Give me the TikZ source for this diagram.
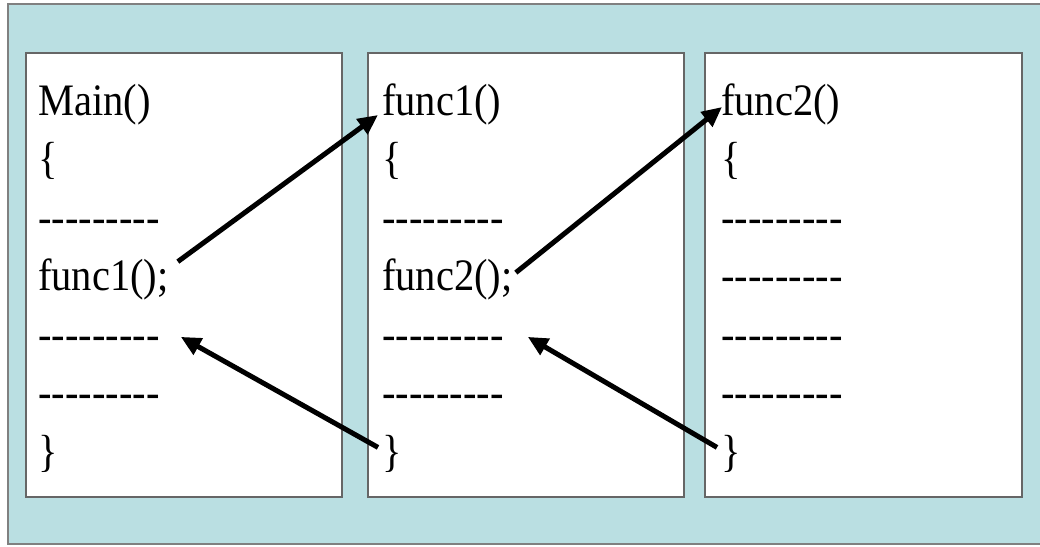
\documentclass[tikz,border=0pt]{standalone}
\usepackage{fontspec}
\setmainfont{Liberation Serif}[Ligatures=TeXOff,FakeStretch=0.9]
\usetikzlibrary{arrows.meta}

\definecolor{panelblue}{RGB}{186,223,226}
\newcommand{\dashrow}{---------}

\tikzset{
  codebox/.style={draw=black!60,line width=1.5pt,fill=white},
  codeline/.style={anchor=base west,inner xsep=4pt,inner ysep=0pt,
    font=\fontsize{45}{54}\selectfont},
  callarrow/.style={line width=5pt,-{Triangle[length=20pt,width=18pt]}},
}

\begin{document}
\begin{tikzpicture}[x=1pt,y=-1pt]
  \useasboundingbox (0,0) rectangle (1040,546);
  \clip (0,0) rectangle (1040,546);

  % background panel
  \draw[fill=panelblue,draw=black!50,line width=2pt] (8,4) rectangle (1060,544);

  % the three frames
  \draw[codebox] (26,53) rectangle (342,497);
  \draw[codebox] (368,53) rectangle (684,497);
  \draw[codebox] (705,53) rectangle (1022,497);

  % Main()
  \node[codeline] (main)   at (34,115)   {Main()};
  \node[codeline] (mopen)  at (34,173.5) {\{};
  \node[codeline] (mdashA) at (34,232)   {\dashrow};
  \node[codeline] (mcall)  at (34,290.5) {func1();};
  \node[codeline] (mdashB) at (34,349)   {\dashrow};
  \node[codeline] (mdashC) at (34,407.5) {\dashrow};
  \node[codeline] (mclose) at (34,466)   {\}};

  % func1()
  \node[codeline] (fa)       at (378,115)   {func1()};
  \node[codeline] (faopen)   at (378,173.5) {\{};
  \node[codeline] (fadashA)  at (378,232)   {\dashrow};
  \node[codeline] (facall)   at (378,290.5) {func2();};
  \node[codeline] (fadashB)  at (378,349)   {\dashrow};
  \node[codeline] (fadashC)  at (378,407.5) {\dashrow};
  \node[codeline] (faclose)  at (378,466)   {\}};

  % func2()
  \node[codeline] (fb)       at (717,115)   {func2()};
  \node[codeline] (fbopen)   at (717,173.5) {\{};
  \node[codeline] (fbdashA)  at (717,232)   {\dashrow};
  \node[codeline] (fbdashB)  at (717,290.5) {\dashrow};
  \node[codeline] (fbdashC)  at (717,349)   {\dashrow};
  \node[codeline] (fbdashD)  at (717,407.5) {\dashrow};
  \node[codeline] (fbclose)  at (717,466)   {\}};

  % calls and returns
  \draw[callarrow] ([xshift=5pt,yshift=-3pt]mcall.north east) -- (fa.base west);
  \draw[callarrow] ([xshift=-1pt,yshift=-14pt]facall.north east) -- ([xshift=5pt,yshift=8pt]fb.base west);
  \draw[callarrow] ([yshift=6pt]faclose.west) -- ([xshift=17pt,yshift=6pt]mdashB.east);
  \draw[callarrow] ([yshift=6pt]fbclose.west) -- ([xshift=20pt,yshift=6pt]fadashB.east);
\end{tikzpicture}
\end{document}
